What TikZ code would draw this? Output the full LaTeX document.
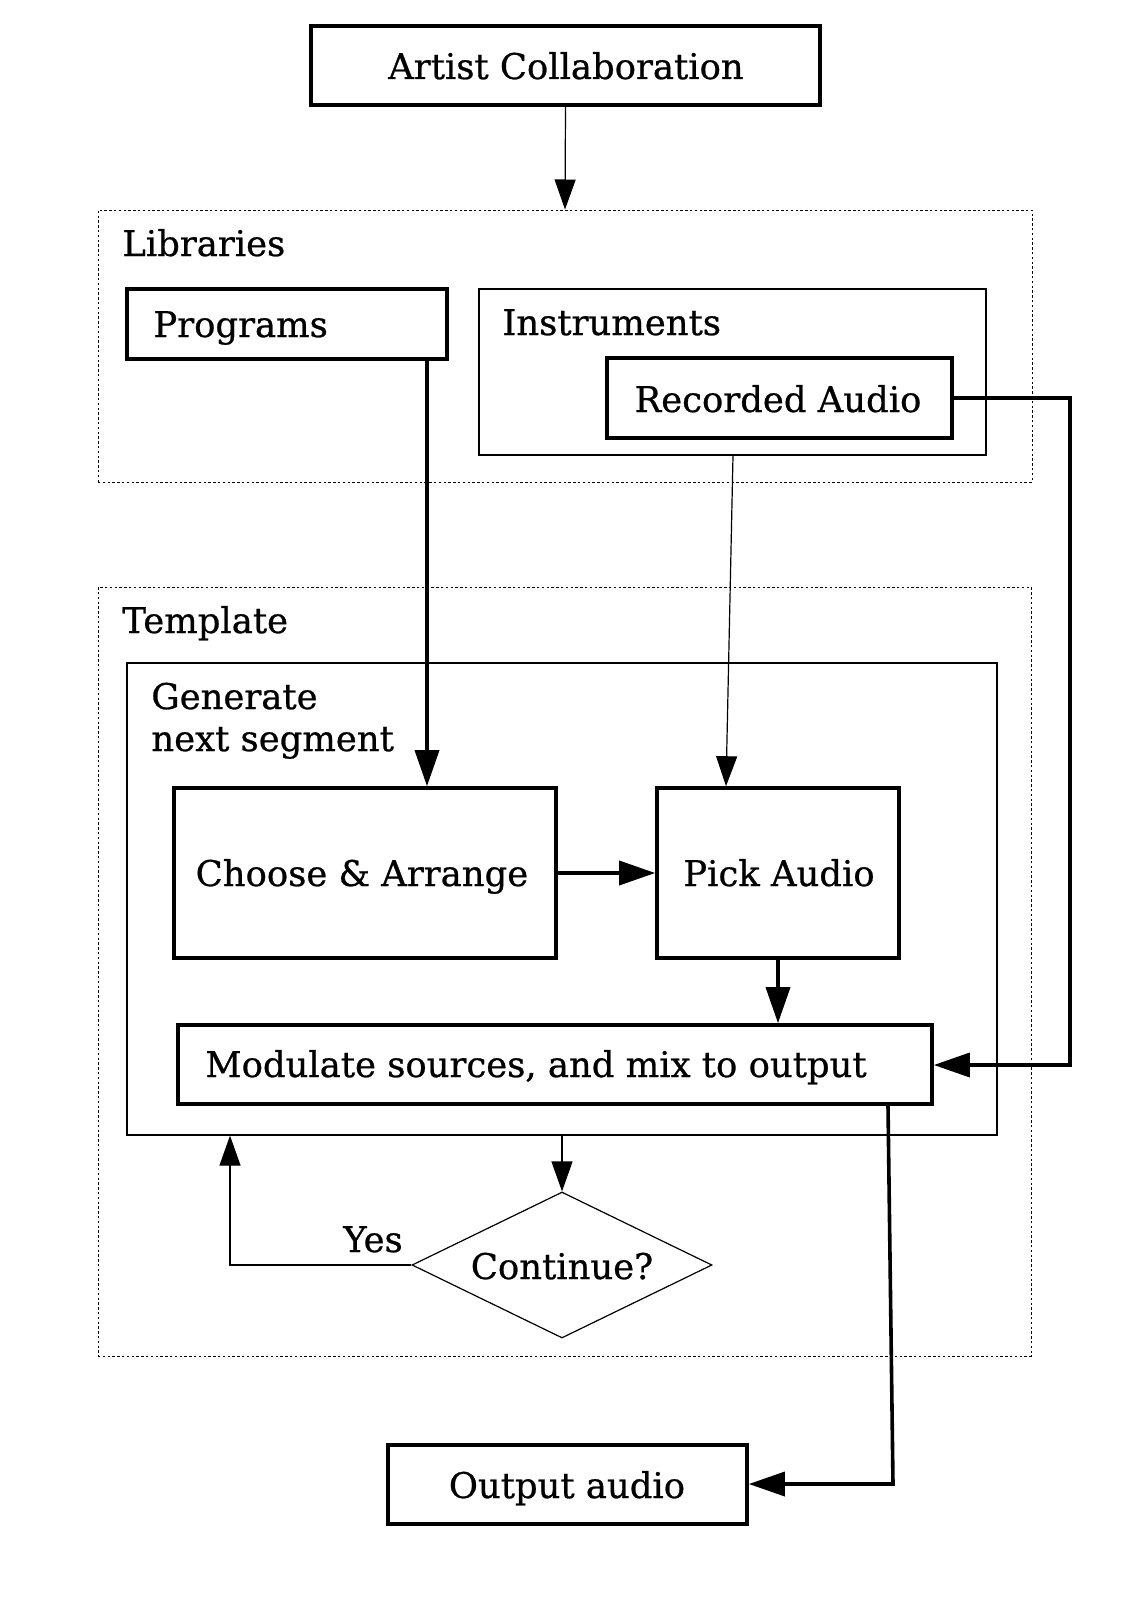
\documentclass[tikz,border=0pt]{standalone}
\usepackage{fontspec}
\setmainfont{DejaVu Serif}[FakeBold=0.7]
\usetikzlibrary{arrows.meta,fit,shapes.geometric}
\newcommand{\fsz}{\fontsize{17.7pt}{22pt}\selectfont}
\begin{document}
\begin{tikzpicture}[x=0.5pt,y=-0.5pt,
  thickbox/.style={draw, line width=1.8pt, inner sep=0pt},
  thinbox/.style={draw, line width=0.6pt, inner sep=0pt},
  grpbox/.style={draw, line width=0.5pt, dash pattern=on 1.2pt off 1.2pt, inner sep=0pt},
  txt/.style={inner sep=0pt, font=\fsz},
  ltxt/.style={txt, anchor=base west},
  ctxt/.style={txt, anchor=base},
  conn/.style={-{Triangle[length=18pt,width=12pt]}, line width=1.8pt},
  thinconn/.style={-{Triangle[length=15pt,width=10.5pt]}, line width=0.6pt}]
\useasboundingbox (0,0) rectangle (1135,1600);

% group boxes
\node[grpbox, fit={(98,210) (1032,482)}] (lib) {};
\node[ltxt] (libl) at (122,256) {Libraries};
\node[grpbox, fit={(98,587) (1031,1356)}] (tpl) {};
\node[ltxt] (tpll) at (122,633) {Template};

% top
\node[thickbox, fit={(311,26) (820,105)}] (ac) {};
\node[ctxt] (acl) at (566,79) {Artist Collaboration};

% libraries content
\node[thickbox, fit={(127,289) (447,359)}] (prog) {};
\node[ltxt] (progl) at (153,337) {Programs};
\node[thinbox, fit={(479,289) (986,455)}] (inst) {};
\node[ltxt] (instl) at (502,335) {Instruments};
\node[thickbox, fit={(607,358) (952,438)}] (rec) {};
\node[ctxt] (recl) at (778,412) {Recorded Audio};

% template content
\node[thinbox, fit={(127,663) (997,1135)}] (gen) {};
\node[ltxt] (genl1) at (151,709) {Generate};
\node[ltxt] (genl2) at (151,751) {next segment};
\node[thickbox, fit={(174,788) (556,958)}] (ca) {};
\node[ctxt] (cal) at (362,886) {Choose \& Arrange};
\node[thickbox, fit={(657,788) (899,958)}] (pa) {};
\node[ctxt] (pal) at (779,886) {Pick Audio};
\node[thickbox, fit={(178,1025) (932,1104)}] (mod) {};
\node[ltxt] (modl) at (205,1077) {Modulate sources, and mix to output};
\node[draw, line width=0.6pt, diamond, aspect=2.05, minimum width=150pt, minimum height=73pt, inner sep=0pt] (cont) at (562,1265) {};
\node[ctxt] (contl) at (562,1279) {Continue?};
\node[ctxt] (yes) at (373,1252) {Yes};

% output
\node[thickbox, fit={(388,1445) (747,1524)}] (out) {};
\node[ctxt] (outl) at (567,1498) {Output audio};

% coordinates for connectors
\coordinate (c1) at (1070,398);
\coordinate (c2) at (1070,1065);
\coordinate (c3) at (893,1484);
\coordinate (c4) at (230,1265);

% connectors
\draw[thinconn] (ac.south) -- (lib.north);
\draw[conn] (prog.south -| 427,0) -- (ca.north -| 427,0);
\draw[thinconn] (inst.south -| 733,0) -- (pa.north -| 726,0);
\draw[conn, line join=miter] (rec.east) -- (c1) -- (c2) -- (mod.east |- c2);
\draw[conn] (ca.east |- 0,873) -- (pa.west |- 0,873);
\draw[conn] (pa.south -| 778,0) -- (mod.north -| 778,0);
\draw[conn, line join=miter] (mod.south -| 888,0) -- (c3) -- (out.east |- c3);
\draw[thinconn] (gen.south -| cont.north) -- (cont.north);
\draw[thinconn] (cont.west) -- (c4) -- (gen.south -| c4);
\end{tikzpicture}
\end{document}
